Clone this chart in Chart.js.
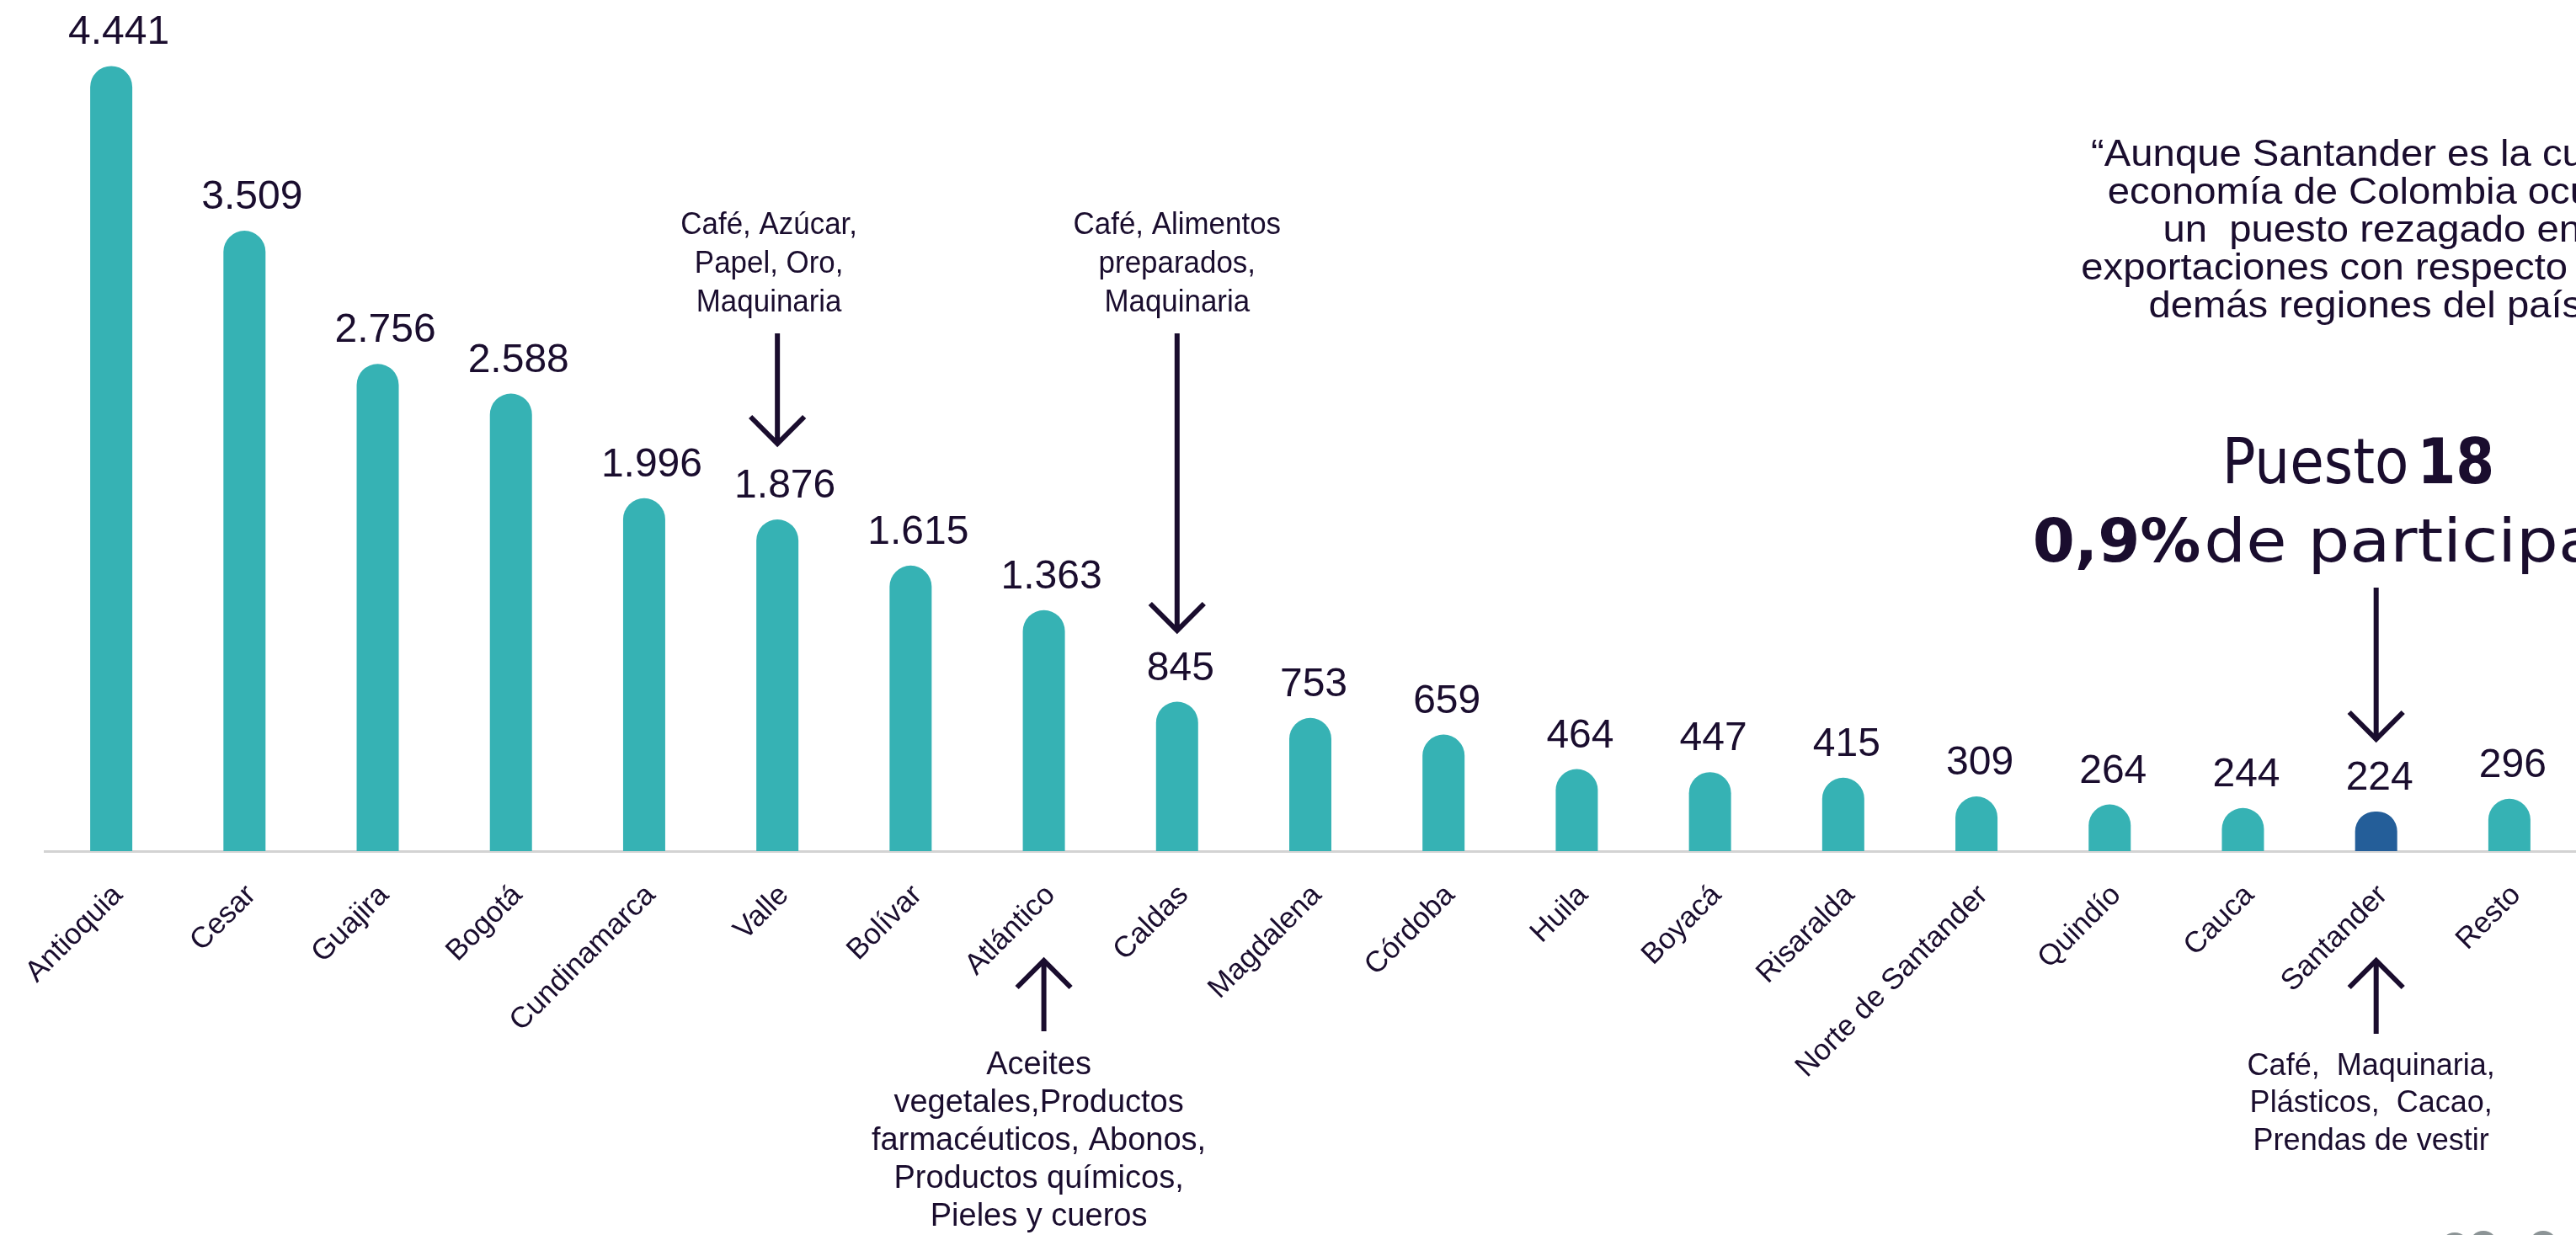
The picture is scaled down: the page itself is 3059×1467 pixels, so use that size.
<!DOCTYPE html>
<html>
<head>
<meta charset="utf-8">
<script src="https://cdn.jsdelivr.net/npm/chart.js@4"></script>
<style>
  html, body { margin: 0; padding: 0; background: #ffffff; }
  canvas { display: block; }
</style>
</head>
<body>
<canvas id="chart" width="3059" height="1467"></canvas>
<script>
// departamentos y exportaciones (valores del gráfico)
const categories = ['Antioquia', 'Cesar', 'Guajira', 'Bogotá', 'Cundinamarca', 'Valle', 'Bolívar', 'Atlántico', 'Caldas', 'Magdalena', 'Córdoba', 'Huila', 'Boyacá', 'Risaralda', 'Norte de Santander', 'Quindío', 'Cauca', 'Santander', 'Resto']
const exportValues = [4441, 3509, 2756, 2588, 1996, 1876, 1615, 1363, 845, 753, 659, 464, 447, 415, 309, 264, 244, 224, 296]
const highlighted = 'Santander'

// textos de las anotaciones
const valleNote = ['Café, Azúcar,', 'Papel, Oro,', 'Maquinaria']
const caldasNote = ['Café, Alimentos', 'preparados,', 'Maquinaria']
const atlanticoNote = ['Aceites', 'vegetales,Productos', 'farmacéuticos, Abonos,', 'Productos químicos,', 'Pieles y cueros']
const santanderNote = ['Café,  Maquinaria,', 'Plásticos,  Cacao,', 'Prendas de vestir']
const quoteLines = ['“Aunque Santander es la cuarta', 'economía de Colombia ocupa', 'un  puesto rezagado en', 'exportaciones con respecto a las', 'demás regiones del país”']
const rankText = ['Puesto', '18']
const shareText = ['0,9%', 'de participación']

const ink = '#1a0d2e'
const teal = '#36b2b4'
const blue = '#245e99'

function formatValue(v) {
  return String(v).replace(/\B(?=(\d{3})+(?!\d))/g, '.')
}

function stretchText(ctx, text, x, y, sx, align) {
  ctx.save()
  ctx.translate(x, y)
  ctx.scale(sx, 1)
  ctx.textAlign = align
  ctx.fillText(text, 0, 0)
  ctx.restore()
}

function arrow(ctx, x, yStart, yTip) {
  const dir = yTip > yStart ? -1 : 1 // las alas van hacia el inicio
  ctx.beginPath()
  ctx.moveTo(x, yStart)
  ctx.lineTo(x, yTip)
  ctx.moveTo(x - 32, yTip + dir * 32)
  ctx.lineTo(x, yTip)
  ctx.lineTo(x + 32, yTip + dir * 32)
  ctx.stroke()
}

// etiquetas de valor sobre cada barra
const valueLabels = {
  id: 'valueLabels',
  afterDatasetsDraw(chart) {
    const ctx = chart.ctx
    const meta = chart.getDatasetMeta(0)
    ctx.save()
    ctx.fillStyle = ink
    ctx.font = '48px "Liberation Sans", Arial, sans-serif'
    ctx.textAlign = 'center'
    ctx.textBaseline = 'alphabetic'
    meta.data.forEach((bar, i) => {
      const shift = exportValues[i] >= 1000 ? 9 : 4
      ctx.fillText(formatValue(exportValues[i]), bar.x + shift, bar.y - 26)
    })
    ctx.restore()
  }
}

// flechas, notas y texto de la derecha
const annotations = {
  id: 'annotations',
  afterDraw(chart) {
    const ctx = chart.ctx
    const meta = chart.getDatasetMeta(0)
    const xOf = name => meta.data[categories.indexOf(name)].x
    const valleX = xOf('Valle')
    const caldasX = xOf('Caldas')
    const atlX = xOf('Atlántico')
    const santX = xOf('Santander')

    ctx.save()
    ctx.fillStyle = ink
    ctx.strokeStyle = ink
    ctx.lineWidth = 6
    ctx.lineCap = 'butt'
    ctx.lineJoin = 'miter'
    ctx.textBaseline = 'middle'

    ctx.font = '36px "Liberation Sans", Arial, sans-serif'
    valleNote.forEach((t, i) => stretchText(ctx, t, valleX - 10, 268 + i * 46, 0.97, 'center'))
    caldasNote.forEach((t, i) => stretchText(ctx, t, caldasX, 268 + i * 46, 0.97, 'center'))
    santanderNote.forEach((t, i) => stretchText(ctx, t, santX - 6, 1267 + i * 44.5, 1, 'center'))
    ctx.font = '38px "Liberation Sans", Arial, sans-serif'
    atlanticoNote.forEach((t, i) => stretchText(ctx, t, atlX - 6, 1266 + i * 45, 1, 'center'))

    arrow(ctx, valleX, 396, 527)
    arrow(ctx, caldasX, 396, 749)
    arrow(ctx, atlX, 1225, 1141)
    arrow(ctx, santX, 1228, 1141)
    arrow(ctx, santX, 698, 878)

    // cita
    ctx.textBaseline = 'alphabetic'
    ctx.font = '45px "Liberation Sans", Arial, sans-serif'
    quoteLines.forEach((t, i) => stretchText(ctx, t, santX - 5, 197 + i * 45, 1.05, 'center'))

    // Puesto 18
    const rx = santX - 183
    ctx.font = '75px "DejaVu Sans", sans-serif'
    stretchText(ctx, rankText[0], rx, 574, 0.88, 'left')
    const w0 = ctx.measureText(rankText[0]).width * 0.88
    ctx.font = 'bold 75px "DejaVu Sans", sans-serif'
    stretchText(ctx, rankText[1], rx + w0 + 10, 574, 0.88, 'left')

    // 0,9% de participación
    const sx0 = santX - 408
    ctx.font = 'bold 72px "DejaVu Sans", sans-serif'
    stretchText(ctx, shareText[0], sx0, 667, 1, 'left')
    const w1 = ctx.measureText(shareText[0]).width
    ctx.font = '72px "DejaVu Sans", sans-serif'
    stretchText(ctx, shareText[1], sx0 + w1 + 4, 667, 1.09, 'left')

    // puntos grises del pie de página
    ctx.fillStyle = '#8c9496'
    ;[[2915, 1481], [2949, 1479], [3020, 1479]].forEach(([cx, cy]) => {
      ctx.beginPath()
      ctx.arc(cx, cy, 17, 0, Math.PI * 2)
      ctx.fill()
    })
    ctx.restore()
  }
}

const ctx = document.getElementById('chart').getContext('2d')
new Chart(ctx, {
  type: 'bar',
  data: {
    labels: categories,
    datasets: [{
      data: exportValues,
      backgroundColor: categories.map(c => c === highlighted ? blue : teal),
      borderWidth: 0,
      borderSkipped: 'bottom',
      borderRadius: { topLeft: 25, topRight: 25, bottomLeft: 0, bottomRight: 0 },
      barPercentage: 0.316,
      categoryPercentage: 1
    }]
  },
  options: {
    responsive: false,
    devicePixelRatio: 1,
    animation: false,
    layout: { padding: { left: 53, right: 0, top: 3, bottom: 0 } },
    plugins: {
      legend: { display: false },
      tooltip: { enabled: false }
    },
    scales: {
      x: {
        grid: { display: false, drawTicks: false },
        border: { display: true, color: '#d3d3d3', width: 3 },
        ticks: {
          autoSkip: false,
          minRotation: 45,
          maxRotation: 45,
          padding: 32,
          labelOffset: 8,
          color: ink,
          font: { family: '"Liberation Sans", Arial, sans-serif', size: 35 }
        },
        afterFit: scale => {
          scale.height = 456
          scale.paddingLeft = 0
          scale.paddingRight = 0
        }
      },
      y: {
        display: false,
        min: 0,
        max: 4800
      }
    }
  },
  plugins: [valueLabels, annotations]
})
</script>
</body>
</html>
